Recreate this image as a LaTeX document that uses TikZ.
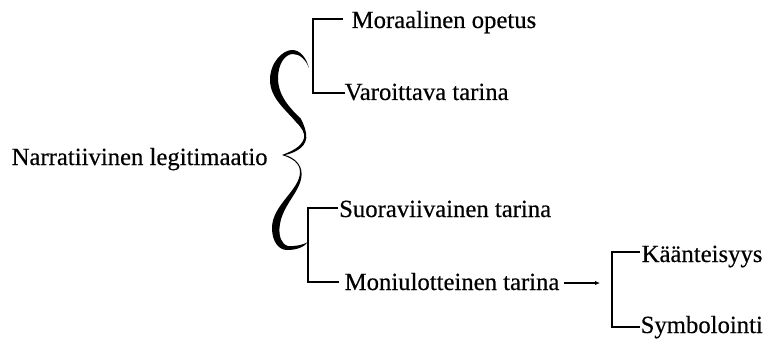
\documentclass[tikz,border=0pt]{standalone}
\usepackage{fontspec}
\setmainfont{Liberation Serif}
\newfontfamily\labelfont{Liberation Serif}[FakeBold=0.4]
\usetikzlibrary{arrows.meta}
\tikzset{
  label/.style={anchor=base west, inner sep=0pt,
                font=\labelfont\fontsize{24.7}{28}\selectfont},
  link/.style={line width=1.1pt},
}
\begin{document}
\begin{tikzpicture}[x=1pt, y=-1pt]
\useasboundingbox (0,0) rectangle (765,342);

% texts
\node[label] (narr) at (11.5,165)  {Narratiivinen legitimaatio};
\node[label] (mor)  at (351.5,28)  {Moraalinen opetus};
\node[label] (var)  at (344.5,100) {Varoittava tarina};
\node[label] (suo)  at (339,217)   {Suoraviivainen tarina};
\node[label] (mon)  at (344.5,290) {Moniulotteinen tarina};
\node[label] (kaa)  at (641.5,262) {Käänteisyys};
\node[label] (sym)  at (640.5,333) {Symbolointi};

% the large calligraphic brace
\fill[black]
  % upper half, outer edge
  (309,68) .. controls (306,57) and (300,50) .. (292,50)
  .. controls (283,50) and (270,62) .. (270,80)
  .. controls (270,98) and (286,110) .. (296,122)
  .. controls (302,128) and (305,133) .. (304,138)
  .. controls (302,147) and (290,152) .. (282,155)
  % lower half, outer edge
  .. controls (292,158) and (300,163) .. (300,172)
  .. controls (300,190) and (272,205) .. (272,228)
  .. controls (272,242) and (279,250) .. (287,250)
  .. controls (297,250) and (304,247) .. (308,242)
  % lower half, inner edge
  .. controls (303,245) and (295,246.5) .. (288,246)
  .. controls (281,244) and (279,236) .. (279.5,228)
  .. controls (281,205) and (301.5,192) .. (301.6,174)
  .. controls (301.6,164) and (294,157.5) .. (285,155)
  % upper half, inner edge
  .. controls (292,153.5) and (305,149) .. (306.3,138)
  .. controls (306.5,131) and (304,125) .. (301,119)
  .. controls (290,108) and (278,96) .. (278,78)
  .. controls (278,64) and (285,54) .. (293,54)
  .. controls (300,54) and (306,60) .. (309,68)
  -- cycle;

% brackets
\draw[link] ([shift={(-8.5,-9)}]mor.base west) -- ++(-30,0)
            |- ([shift={(0,-7)}]var.base west);
\draw[link] ([shift={(-1,-9)}]suo.base west) -- ++(-30,0)
            |- ([shift={(-5.5,-8)}]mon.base west);
\coordinate (arrEnd) at (600,283);
\draw[link, -{Latex[length=5pt, width=4.5pt]}]
      ([shift={(4.5,-7)}]mon.base east) -- (arrEnd);
\draw[link] ([shift={(-1.5,-10)}]kaa.base west) -- ++(-28,0)
            |- ([shift={(-0.5,-6)}]sym.base west);
\end{tikzpicture}
\end{document}
